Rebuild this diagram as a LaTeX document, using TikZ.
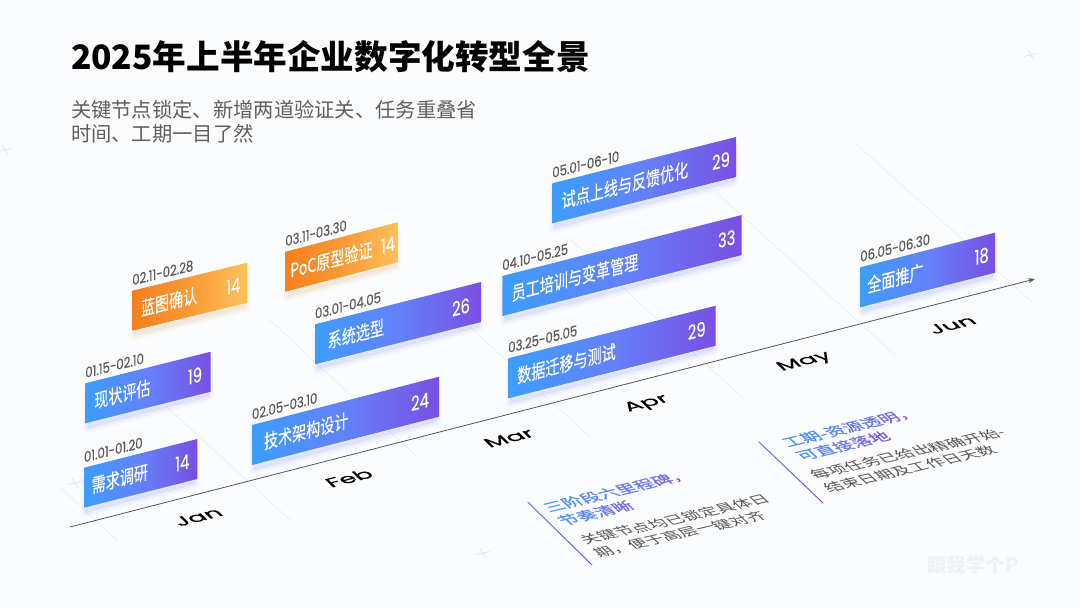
\documentclass[tikz,border=0pt]{standalone}
\usepackage{fontspec}
\setmainfont{Noto Sans CJK SC}
\newfontfamily\latinfont[FakeBold=.35]{Poppins}
\newfontfamily\namefont[FakeBold=.25]{Noto Sans CJK SC}
\newfontfamily\headfont[FakeBold=.4]{Noto Sans CJK SC}
\usetikzlibrary{arrows.meta}
\definecolor{bgc}{HTML}{FBFCFE}
\definecolor{gridc}{HTML}{E6E8ED}
\definecolor{crossc}{HTML}{E0E8F5}
\definecolor{axisc}{HTML}{555555}
\definecolor{datec}{HTML}{5A5A5A}
\definecolor{subc}{HTML}{5F5F5F}
\definecolor{bodyc}{HTML}{555555}
\definecolor{blA}{HTML}{3D9DFF}
\definecolor{blB}{HTML}{6381F8}
\definecolor{blC}{HTML}{7A4FE3}
\definecolor{orA}{HTML}{F57F1E}
\definecolor{orB}{HTML}{F99A35}
\definecolor{orC}{HTML}{FFC15C}
\definecolor{shblue}{HTML}{7C8CFF}
\definecolor{shorange}{HTML}{F5A050}
\definecolor{wmk}{HTML}{F0F1F5}
\definecolor{gtA}{HTML}{4B93F8}
\definecolor{gtB}{HTML}{5A86F5}
\definecolor{gtC}{HTML}{6A78F0}
\definecolor{gtD}{HTML}{7669EA}
\definecolor{gtE}{HTML}{7A58E4}
\pgfdeclarehorizontalshading{barblue}{100bp}{color(0bp)=(blA);color(25bp)=(blA);color(50bp)=(blB);color(75bp)=(blC);color(100bp)=(blC)}
\pgfdeclarehorizontalshading{barorange}{100bp}{color(0bp)=(orA);color(25bp)=(orA);color(50bp)=(orB);color(75bp)=(orC);color(100bp)=(orC)}
\tikzset{
  gridline/.style={draw=gridc,line width=.45pt},
  crossmark/.style={draw=crossc,line width=.8pt},
  plaintext/.style={inner sep=0pt,outer sep=0pt,anchor=west,transform shape},
  barname/.style={plaintext,text=white,font=\namefont\fontsize{19}{19}\selectfont},
  barnum/.style={plaintext,anchor=center,text=white,font=\latinfont\fontsize{20}{20}\selectfont},
  bardate/.style={plaintext,text=datec,font=\latinfont\fontsize{14.6}{14.6}\selectfont},
  monthlabel/.style={plaintext,anchor=center,text=black,font=\latinfont\fontsize{25}{25}\selectfont,cm={.97,.25,-.47,.45,(#1)}},
  headtext/.style={plaintext,align=left,font=\headfont\fontsize{18.5}{24}\selectfont,cm={.97,.235,-.6,.56,(#1)}},
  bodytext/.style={plaintext,align=left,text=bodyc,font=\fontsize{17.4}{22.5}\selectfont,cm={.97,.225,-.6,.56,(#1)}},
}
\newcommand\gradhead[5]{\textcolor{gtA}{#1}\textcolor{gtB}{#2}\textcolor{gtC}{#3}\textcolor{gtD}{#4}\textcolor{gtE}{#5}}
\begin{document}
\begin{tikzpicture}[x=1pt,y=-1pt]
\fill[bgc] (0,0) rectangle (1080,608);
\useasboundingbox (0,0) rectangle (1080,608);
% background grid
\draw[gridline] (60,487) -- (117,540);
\draw[gridline] (167,407) -- (290,520);
\draw[gridline] (270,320) -- (417,457);
\draw[gridline] (470,327) -- (590,437);
\draw[gridline] (570,239) -- (745,400);
\draw[gridline] (717,193) -- (895,355);
\draw[gridline] (855,143) -- (1033,303);
% background crosses
\foreach \cx/\cy in {1031/55,483/553,5/150,75/483}{
  \draw[crossmark] (\cx-7,\cy+1.5) -- (\cx+7,\cy-1.5);
  \draw[crossmark] (\cx-3,\cy-5) -- (\cx+3,\cy+5);
}
% title
\node[plaintext,text=black,font=\bfseries\fontsize{33.6}{36}\selectfont] (title) at (71,57) {2025年上半年企业数字化转型全景};
\node[plaintext,align=left,text=subc,font=\fontsize{20.3}{24.5}\selectfont] (subtitle) at (71,122) {关键节点锁定、新增两道验证关、任务重叠省\\时间、工期一目了然};
% axis
\coordinate (axisstart) at (70,527);
\coordinate (axisend) at (1035,279);
\draw[draw=axisc,line width=.8pt,-{Stealth[length=7pt,width=5pt]}] (axisstart) -- (axisend);
% months
\node[monthlabel={198,517}] (jan) {Jan};
\node[monthlabel={349,478}] (feb) {Feb};
\node[monthlabel={509,438}] (mar) {Mar};
\node[monthlabel={647,404}] (apr) {Apr};
\node[monthlabel={805,362}] (may) {May};
\node[monthlabel={952,325}] (jun) {Jun};
% bars
\foreach \id/\sh/\shc/\lx/\ty/\rx/\try/\off/\name/\numoff/\num/\date in {
 b1/barblue/shblue/84/467.7/197.3/439/7.7/需求调研/15/14/01.01-01.20,
 b2/barblue/shblue/85.3/383.3/210.7/351.7/9/现状评估/15.7/19/01.15-02.10,
 b3/barorange/shorange/132.3/290.7/247.3/262.7/8.7/蓝图确认/14/14/02.11-02.28,
 b4/barblue/shblue/252/425/439/376.7/12/技术架构设计/19/24/02.05-03.10,
 b5/barblue/shblue/315/324.3/481/282/12.7/系统选型/20/26/03.01-04.05,
 b6/barorange/shorange/285.3/251.7/398.7/222/5/PoC原型验证/10.7/14/03.11-03.30,
 b7/barblue/shblue/508.3/358.3/715.7/305.7/9/数据迁移与测试/19/29/03.25-05.05,
 b8/barblue/shblue/502.3/276/741.7/215/9.4/员工培训与变革管理/15/33/04.10-05.25,
 b9/barblue/shblue/552.3/183.3/736/137/9.4/试点上线与反馈优化/15/29/05.01-06-10,
 b10/barblue/shblue/860.3/267.3/995/232.7/7/全面推广/13.3/18/06.05-06.30}{
  \pgfmathsetmacro\sl{(\ty-\try)/(\rx-\lx)}
  \pgfmathsetmacro\tb{\ty+40}
  \pgfmathsetmacro\trb{\try+40}
  \pgfmathsetmacro\nx{\lx+\off}
  \pgfmathsetmacro\ny{\ty+20-\sl*\off}
  \pgfmathsetmacro\qx{\rx-\numoff}
  \pgfmathsetmacro\qy{\try+20+\sl*\numoff}
  \pgfmathsetmacro\dy{\ty-10.5}
  \pgfmathsetmacro\ax{.74}
  \pgfmathsetmacro\bx{.74*\sl}
  \pgfmathsetmacro\ad{.8}
  \pgfmathsetmacro\bd{.8*\sl}
  \foreach \s in {1,...,6}{
    \fill[\shc,opacity=.02,draw=\shc,line width={1.6*\s*1pt},line join=round]
      (\lx+2,\ty+10) -- (\rx-2,\try+10) -- (\rx-2,\trb+5) -- (\lx+2,\tb+5) -- cycle;
  }
  \shade[shading=\sh] (\lx,\ty) -- (\rx,\try) -- (\rx,\trb) -- (\lx,\tb) -- cycle;
  \node[barname,cm={\ax,\bx,0,1,(\nx,\ny)}] (\id-name) {\name};
  \node[barnum,cm={\ax,\bx,0,1,(\qx,\qy)}] (\id-num) {\num};
  \node[bardate,cm={\ad,\bd,0,1,(\lx,\dy)}] (\id-date) {\date};
}
% callouts
\shade[left color=blB,right color=blC] (527,502) -- (528.3,501.8) -- (592.5,564.8) -- (591.5,565.2) -- cycle;
\shade[left color=blB,right color=blC] (758,441.7) -- (759.3,441.5) -- (823.8,503.1) -- (822.8,503.5) -- cycle;
\node[headtext={552.5,515}] (h1) {\gradhead{三阶}{段六}{里程}{碑}{，}\\\gradhead{节}{奏}{清}{晰}{}};
\node[bodytext={588.5,547.5}] (t1) {关键节点均已锁定具体日\\期，便于高层一键对齐};
\node[headtext={791,450}] (h2) {\gradhead{工期}{-资}{源透}{明}{，}\\\gradhead{可}{直}{接}{落}{地}};
\node[bodytext={818.5,482}] (t2) {每项任务已给出精确开始-\\结束日期及工作日天数};
% watermark
\node[plaintext,text=wmk,font=\bfseries\fontsize{19.5}{19.5}\selectfont] (wm) at (927,565) {跟我学个P};
\end{tikzpicture}
\end{document}
